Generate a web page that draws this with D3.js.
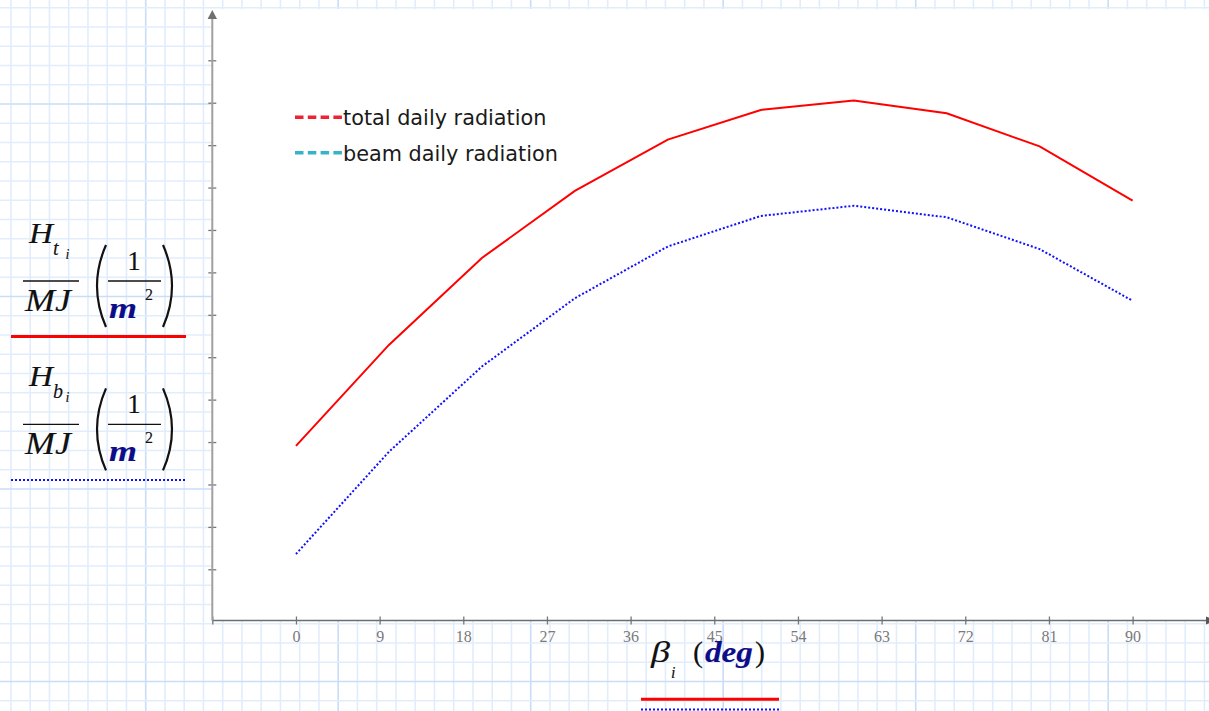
<!DOCTYPE html>
<html>
<head>
<meta charset="utf-8">
<script src="https://cdn.jsdelivr.net/npm/d3@7"></script>
<style>
  html, body { margin: 0; padding: 0; background: #fff; }
  svg { display: block; }
</style>
</head>
<body>
<div id="chart"></div>
<script>
// data
var angles = [0, 10, 20, 30, 40, 50, 60, 70, 80, 90];
var totalRad = [8.91, 11.29, 13.34, 14.92, 16.13, 16.83, 17.05, 16.75, 15.97, 14.69];
var beamRad = [6.36, 8.77, 10.78, 12.39, 13.61, 14.33, 14.57, 14.30, 13.55, 12.33];
var xTicks = [-9, 0, 9, 18, 27, 36, 45, 54, 63, 72, 81, 90];
var yTicks = [6, 7, 8, 9, 10, 11, 12, 13, 14, 15, 16, 17, 18];
var legendLabels = ["total daily radiation", "beam daily radiation"];

var w = 1209, h = 711;
var axisY = 620.5, axisX = 212.3;

var svg = d3.select("#chart").append("svg")
    .attr("width", w)
    .attr("height", h);

// worksheet grid
var step = 19.25;
var grid = svg.append("g");
d3.range(-8, 60).forEach(function(k) {
    var gx = 145.7 + k * step;
    if (gx < 0 || gx > w) return;
    grid.append("line")
        .attr("x1", gx).attr("x2", gx).attr("y1", 0).attr("y2", h)
        .attr("stroke", k % 10 === 0 ? "#c9ddf8" : "#e2edfc")
        .attr("stroke-width", 1.6);
});
d3.range(-6, 40).forEach(function(k) {
    var gy = 104 + k * step;
    if (gy < 0 || gy > h) return;
    grid.append("line")
        .attr("x1", 0).attr("x2", w).attr("y1", gy).attr("y2", gy)
        .attr("stroke", k % 10 === 0 ? "#c9ddf8" : "#e2edfc")
        .attr("stroke-width", 1.6);
});

// plot area
svg.append("rect")
    .attr("x", 213).attr("y", 9)
    .attr("width", w - 213).attr("height", axisY - 9)
    .attr("fill", "#fff");

//Scales
var x = d3.scaleLinear().domain([-9, 90]).range([axisX, 1132.6]);
var y = d3.scaleLinear().domain([6, 18]).range([569.3, 60.3]);

//Lines
var line = d3.line()
    .x(function(d) { return x(d[0]); })
    .y(function(d) { return y(d[1]); });

svg.append("path")
    .datum(angles.map(function(a, i) { return [a, totalRad[i]]; }))
    .attr("d", line)
    .attr("fill", "none")
    .attr("stroke", "#ff0000")
    .attr("stroke-width", 2);

svg.append("path")
    .datum(angles.map(function(a, i) { return [a, beamRad[i]]; }))
    .attr("d", line)
    .attr("fill", "none")
    .attr("stroke", "#1010ff")
    .attr("stroke-width", 2)
    .attr("stroke-dasharray", "2,2");

//Axes
var xAxis = d3.axisBottom(x)
    .tickValues(xTicks)
    .tickSize(4)
    .tickPadding(0)
    .tickFormat(function(d) { return d < 0 ? "" : d; });

var gx = svg.append("g")
    .attr("transform", "translate(0," + axisY + ")")
    .call(xAxis);
gx.select(".domain").remove();
gx.selectAll(".tick line")
    .attr("y1", -4).attr("y2", 4)
    .attr("stroke", "#777").attr("stroke-width", 1.3);
gx.selectAll(".tick text")
    .attr("y", 21)
    .attr("dy", null)
    .attr("fill", "#7a7a7a")
    .style("font-family", "'Liberation Serif', serif")
    .style("font-size", "16px");

svg.append("line")
    .attr("x1", axisX).attr("x2", w)
    .attr("y1", axisY).attr("y2", axisY)
    .attr("stroke", "#6e6e6e").attr("stroke-width", 1.6);
svg.append("path")
    .attr("d", "M1206," + (axisY - 4) + "L1215," + axisY + "L1206," + (axisY + 4) + "Z")
    .attr("fill", "#555");

var yAxis = d3.axisLeft(y)
    .tickValues(yTicks)
    .tickSize(4)
    .tickFormat("");

var gy = svg.append("g")
    .attr("transform", "translate(" + axisX + ",0)")
    .call(yAxis);
gy.select(".domain").remove();
gy.selectAll(".tick line")
    .attr("x1", -4).attr("x2", 4)
    .attr("stroke", "#777").attr("stroke-width", 1.3);

svg.append("line")
    .attr("x1", axisX).attr("x2", axisX)
    .attr("y1", axisY).attr("y2", 17)
    .attr("stroke", "#a0a0a0").attr("stroke-width", 2);
svg.append("path")
    .attr("d", "M" + (axisX - 4.7) + ",19L" + axisX + ",10L" + (axisX + 4.7) + ",19Z")
    .attr("fill", "#707070");

//Legend
var legendColors = ["#ee2233", "#35b3c8"];
legendLabels.forEach(function(label, i) {
    var ly = 117.3 + i * 35.4;
    svg.append("line")
        .attr("x1", 295).attr("x2", 342)
        .attr("y1", ly).attr("y2", ly)
        .attr("stroke", legendColors[i])
        .attr("stroke-width", 3.5)
        .attr("stroke-dasharray", "8.5,4.3");
    svg.append("text")
        .attr("x", 343)
        .attr("y", ly + 8)
        .attr("fill", "#1a1a1a")
        .style("font-family", "'DejaVu Sans', sans-serif")
        .style("font-size", "20.8px")
        .text(label);
});

//Math labels (left)
var serif = "'Liberation Serif', 'DejaVu Serif', serif";
function mathText(g, str, tx, ty, size, opts) {
    opts = opts || {};
    var t = g.append("text")
        .attr("x", tx).attr("y", ty)
        .attr("fill", opts.fill || "#111")
        .attr("stroke", opts.fill || "#111")
        .attr("stroke-width", 0.12)
        .attr("text-anchor", opts.anchor || "start")
        .style("font-family", serif)
        .style("font-style", opts.upright ? "normal" : "italic")
        .style("font-weight", opts.bold ? "bold" : "normal")
        .style("font-size", size + "px")
        .text(str);
    if (opts.len) t.attr("textLength", opts.len).attr("lengthAdjust", "spacingAndGlyphs");
    return t;
}

function unitLabel(dy, sub, lineColor, dashed) {
    var g = svg.append("g").attr("transform", "translate(0," + dy + ")");
    mathText(g, "H", 29, 243, 30, {len: 24});
    mathText(g, sub, 53, 255, 20);
    mathText(g, "i", 65.5, 259, 14);
    g.append("line").attr("x1", 23).attr("x2", 79).attr("y1", 281).attr("y2", 281)
        .attr("stroke", "#111").attr("stroke-width", 1.4);
    mathText(g, "MJ", 25, 311, 31, {len: 46});
    g.append("path").attr("d", "M106,245Q88,286 106,327")
        .attr("fill", "none").attr("stroke", "#111").attr("stroke-width", 2.2);
    g.append("path").attr("d", "M163,245Q181,286 163,327")
        .attr("fill", "none").attr("stroke", "#111").attr("stroke-width", 2.2);
    mathText(g, "1", 134, 270, 27, {upright: true, anchor: "middle"});
    g.append("line").attr("x1", 108).attr("x2", 161).attr("y1", 281).attr("y2", 281)
        .attr("stroke", "#111").attr("stroke-width", 1.4);
    mathText(g, "m", 109, 318, 30, {bold: true, fill: "#0d0d8a", len: 28});
    mathText(g, "2", 145, 300, 16, {upright: true});
    g.append("line").attr("x1", 11).attr("x2", 186).attr("y1", 336.5).attr("y2", 336.5)
        .attr("stroke", lineColor).attr("stroke-width", dashed ? 2 : 3)
        .attr("stroke-dasharray", dashed ? "2,2" : null);
}
unitLabel(0, "t", "#ff0000", false);
unitLabel(143.4, "b", "#1010ff", true);

//x-axis label
mathText(svg, "\u03b2", 651, 662, 30, {len: 19});
mathText(svg, "i", 671, 678, 16);
mathText(svg, "(", 693, 662, 30, {upright: true});
mathText(svg, "deg", 705, 662, 30, {bold: true, fill: "#0d0d8a", len: 48});
mathText(svg, ")", 755, 662, 30, {upright: true});
svg.append("line").attr("x1", 641).attr("x2", 779).attr("y1", 699.3).attr("y2", 699.3)
    .attr("stroke", "#ff0000").attr("stroke-width", 3);
svg.append("line").attr("x1", 641).attr("x2", 779).attr("y1", 709.5).attr("y2", 709.5)
    .attr("stroke", "#1010ff").attr("stroke-width", 2).attr("stroke-dasharray", "2,2");
</script>
</body>
</html>
